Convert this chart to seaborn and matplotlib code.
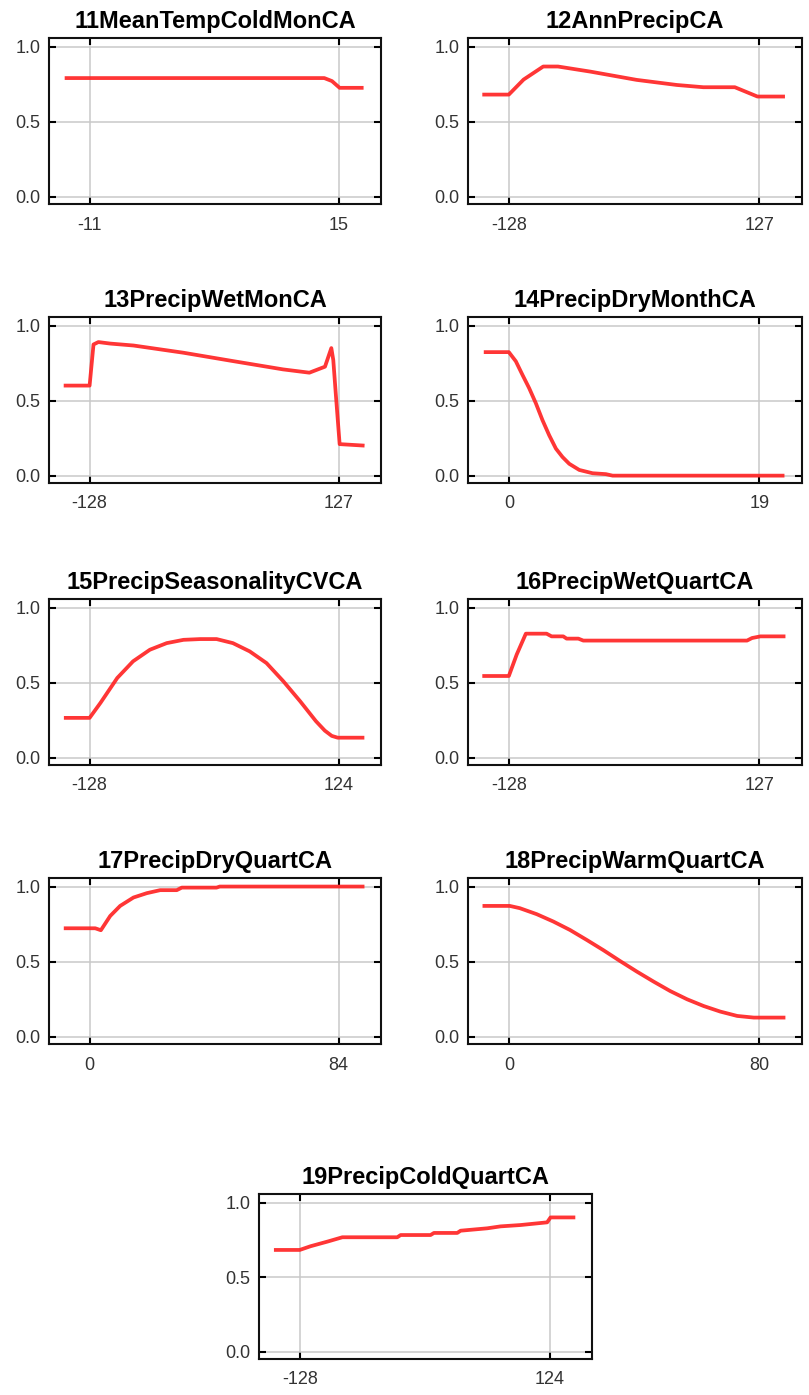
import numpy as np
import pandas as pd
import matplotlib
matplotlib.use("Agg")
import matplotlib.pyplot as plt
import seaborn as sns

sns.set_theme(style="white")
plt.rcParams['font.family'] = ['Liberation Sans', 'DejaVu Sans']

# ---- response curves (x in variable units, y = predicted suitability) ----
titles = ["11MeanTempColdMonCA", "12AnnPrecipCA", "13PrecipWetMonCA",
          "14PrecipDryMonthCA", "15PrecipSeasonalityCVCA", "16PrecipWetQuartCA",
          "17PrecipDryQuartCA", "18PrecipWarmQuartCA", "19PrecipColdQuartCA"]

tick_lo = [-11, -128, -128, 0, -128, -128, 0, 0, -128]
tick_hi = [15, 127, 127, 19, 124, 127, 84, 80, 124]

x11 = [-13.6, 13.5, 14.3, 15.1, 17.6]
y11 = [0.79, 0.79, 0.77, 0.725, 0.725]

x12 = [-155, -128, -113, -93, -78, -45, 2, 43, 70, 102, 125, 153]
y12 = [0.68, 0.68, 0.78, 0.867, 0.867, 0.833, 0.778, 0.744, 0.729, 0.729, 0.667, 0.667]

x13 = [-154.5, -128, -124, -119, -107, -83, -32, 19, 70, 97, 113, 119.5, 121.5, 124, 128, 153.5]
y13 = [0.60, 0.60, 0.874, 0.89, 0.88, 0.867, 0.819, 0.763, 0.708, 0.686, 0.726, 0.85, 0.77, 0.55, 0.21, 0.20]

x14 = [-1.9, 0, 0.53, 1.03, 1.54, 2.05, 2.55, 3.06, 3.57, 4.07, 4.58, 5.34, 6.35, 7.36, 7.87, 20.9]
y14 = [0.823, 0.823, 0.762, 0.672, 0.583, 0.482, 0.37, 0.269, 0.18, 0.124, 0.079, 0.038,
       0.016, 0.01, 0.0, 0.0]

x15 = [-154, -128, -117, -100, -84, -67, -50, -33, -16, 0.5, 17, 34, 51, 68, 85, 101, 110, 117, 123, 150]
y15 = [0.265, 0.265, 0.365, 0.531, 0.642, 0.719, 0.763, 0.785, 0.79, 0.79, 0.763, 0.708,
       0.63, 0.509, 0.376, 0.243, 0.18, 0.145, 0.133, 0.133]

x16 = [-155, -128, -120, -110.7, -89.6, -84.5, -72.6, -69.2, -57.3, -52.2, 114.4, 119.5, 128, 153.5]
y16 = [0.544, 0.544, 0.687, 0.826, 0.826, 0.808, 0.808, 0.793, 0.793, 0.78, 0.78, 0.797, 0.808, 0.808]

x17 = [-8.7, 1.9, 3.8, 6.95, 10.3, 14.8, 19.3, 23.8, 29.4, 31.1, 42.8, 43.9, 92.7]
y17 = [0.722, 0.722, 0.709, 0.804, 0.871, 0.927, 0.956, 0.976, 0.976, 0.993, 0.993, 1.0, 1.0]

x18 = [-8.4, 0.3, 3.5, 8.9, 14.2, 19.5, 24.9, 30.2, 35.5, 40.9, 46.2, 51.5, 56.9, 62.2,
       67.5, 72.9, 78.2, 88.3]
y18 = [0.871, 0.871, 0.856, 0.816, 0.767, 0.711, 0.644, 0.576, 0.504, 0.433, 0.367, 0.304,
       0.249, 0.204, 0.167, 0.138, 0.127, 0.127]

x19 = [-154, -128, -117, -100, -85, -29.6, -26.2, 4, 7.4, 30.9, 34.3, 61.2, 74.6, 94.8,
       121.6, 125, 150]
y19 = [0.682, 0.682, 0.707, 0.738, 0.767, 0.767, 0.782, 0.782, 0.796, 0.796, 0.811, 0.827,
       0.84, 0.849, 0.867, 0.9, 0.9]

curves_x = [x11, x12, x13, x14, x15, x16, x17, x18, x19]
curves_y = [y11, y12, y13, y14, y15, y16, y17, y18, y19]

y_ticks = [0.0, 0.5, 1.0]

# ---- layout in pixels ----
W, H = 809, 1395
fig = plt.figure(figsize=(W / 100, H / 100), dpi=100)

col_left = [(49, 381), (468, 802)]
row_top = [38, 317, 599, 878]
box_h = 166
boxes = []
for r in range(4):
    for c in range(2):
        boxes.append((col_left[c][0], row_top[r], col_left[c][1] - col_left[c][0], box_h))
boxes.append((259, 1194, 333, 165))

line_color = "#ff2020"

for i in range(9):
    x0, y0, w, h = boxes[i]
    ax = fig.add_axes([x0 / W, 1 - (y0 + h) / H, w / W, h / H])
    df = pd.DataFrame({"x": curves_x[i], "y": curves_y[i]})
    sns.lineplot(data=df, x="x", y="y", ax=ax, color=line_color, lw=2.7,
                 alpha=0.9, solid_capstyle="butt", solid_joinstyle="round", zorder=3)
    lo, hi = tick_lo[i], tick_hi[i]
    span = hi - lo
    ax.set_xlim(lo - 0.163 * span, hi + 0.170 * span)
    ax.set_ylim(-0.049, 1.057)
    ax.set_xticks([lo, hi])
    ax.set_xticklabels([str(lo), str(hi)])
    ax.set_yticks(y_ticks)
    ax.set_yticklabels([f"{v:.1f}" for v in y_ticks])
    ax.grid(True, color="#c9c9c9", lw=1.1, zorder=0)
    ax.set_axisbelow(True)
    ax.tick_params(axis="both", direction="in", length=5, width=1.5, color="black",
                   labelsize=13, labelcolor="#333333", top=True, right=True,
                   bottom=True, left=True)
    ax.tick_params(axis="x", pad=9)
    ax.tick_params(axis="y", pad=6)
    for s in ax.spines.values():
        s.set_visible(True)
        s.set_color("#111111")
        s.set_linewidth(1.5)
    ax.set_xlabel("")
    ax.set_ylabel("")
    ax.set_title(titles[i], fontsize=17, fontweight="bold", color="black", pad=7)

fig.savefig("out.png", dpi=100, facecolor="white")
